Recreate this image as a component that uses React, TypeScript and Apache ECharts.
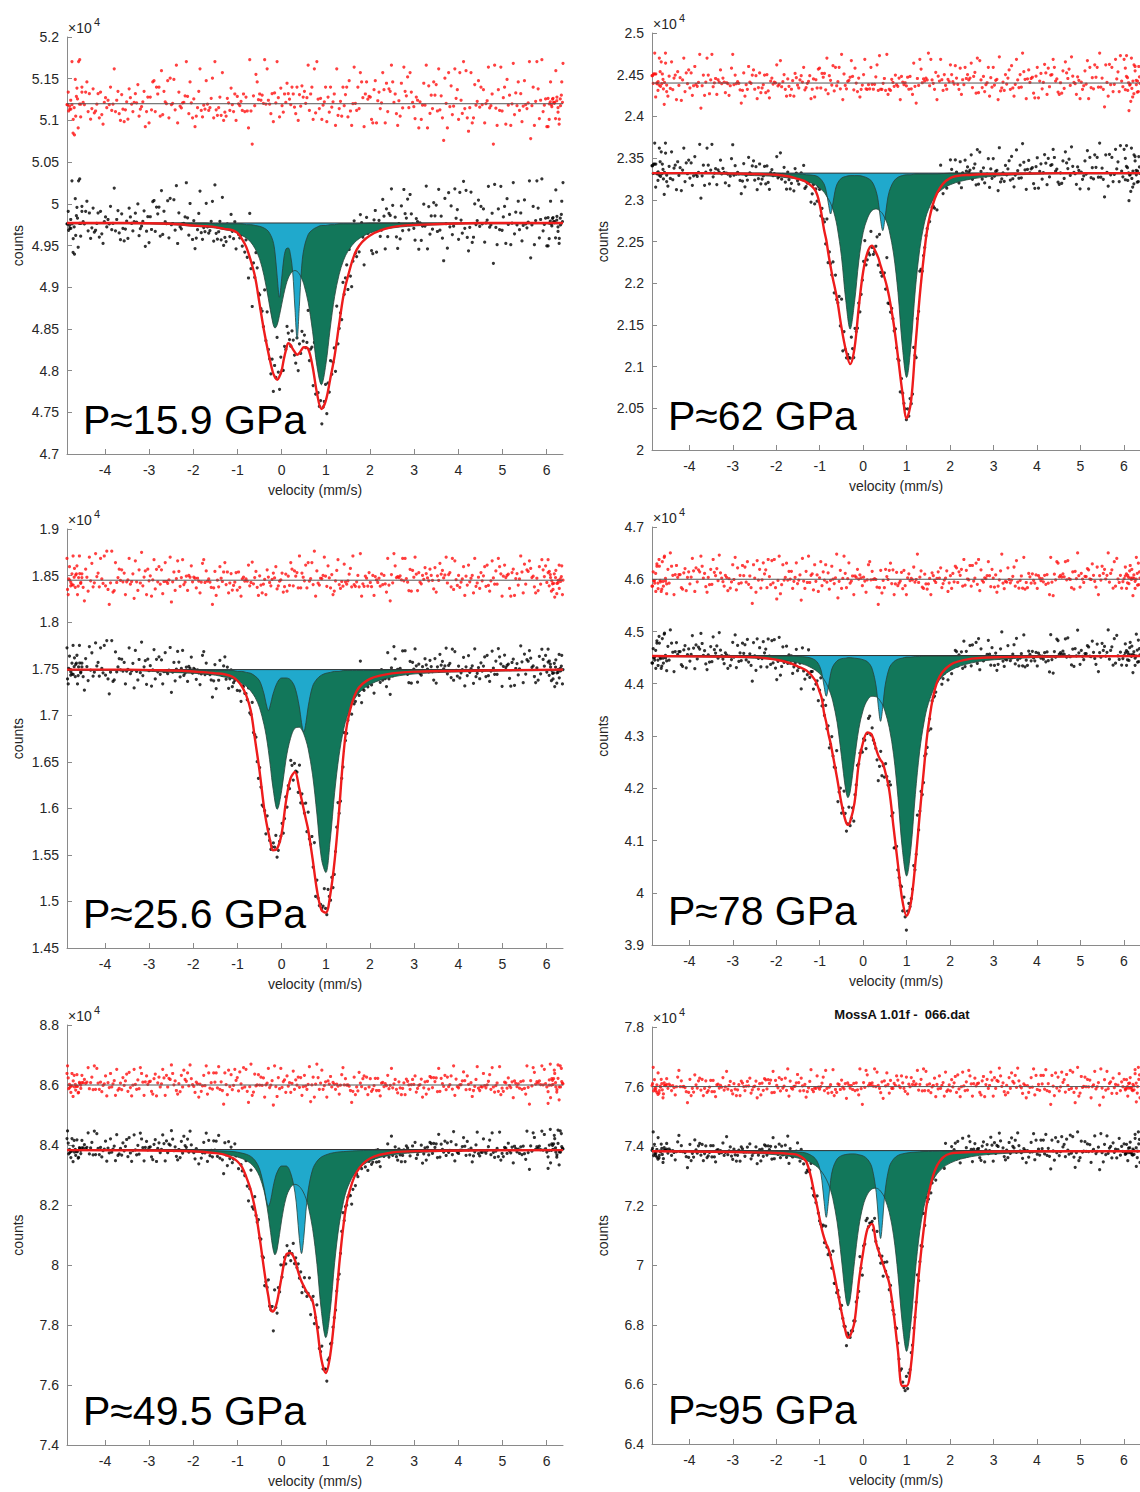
import React, { useEffect, useRef } from "react";
import * as echarts from "echarts";

// ---------- shared axis data ----------
const velocityTicks = [-4, -3, -2, -1, 0, 1, 2, 3, 4, 5, 6];
const velocityRange = [-4.86, 6.37];

// residual readings per channel (coarse level index + fine index, in units of the panel's noise sigma)
const residualDigits =
  "4537264815" + "3649527406" + "5283746193" + "4762538415" + "2946375081" +
  "6354729148" + "3857462953" + "1648573926" + "4739285164" + "5826374915" +
  "3746582930" + "6482957314" + "5937462851" + "2864739516" + "4378526194" +
  "7526384913" + "3659472850" + "6847295316" + "4295837461" + "5738264917" +
  "2649375813" + "8463527946" + "3574826190" + "6293748514" + "4758362918" +
  "3946257381" + "5382947164" + "7164583925" + "2857364198" + "4639275813" +
  "5472836491" + "3825649170" + "6948375216" + "4563928714" + "2735849163" +
  "5847263915" + "3692574816" + "4826395712" + "7359248615" + "5463827914";
const residualLevels = [-1.95, -1.15, -0.7, -0.38, -0.12, 0.12, 0.38, 0.7, 1.15, 1.95];
const residualSpread = [0.9, 0.62, 0.4, 0.3, 0.25, 0.25, 0.3, 0.4, 0.62, 0.9];
const channelCount = 400;
// extra channels crowded at both ends of the velocity sweep
const edgeChannelCount = 14;
const edgeChannelWidth = 0.35;

// ---------- Panel 1 : P≈15.9 GPa ----------
const p1Label = "P≈15.9 GPa";
const p1Baseline = 4.977;
const p1ResidualLine = 5.12;
const p1NoiseSigma = 0.022;
const p1YTicks = [4.7, 4.75, 4.8, 4.85, 4.9, 4.95, 5, 5.05, 5.1, 5.15, 5.2];
const p1Velocity = [-4.86, -3.5, -2.5, -2.0, -1.7, -1.5, -1.3, -1.1, -1.0, -0.9, -0.8, -0.7, -0.6, -0.5, -0.4, -0.3, -0.2, -0.15, -0.1, -0.05, 0, 0.05, 0.1, 0.15, 0.2, 0.25, 0.3, 0.35, 0.4, 0.45, 0.5, 0.6, 0.7, 0.8, 0.9, 1.0, 1.1, 1.2, 1.3, 1.4, 1.5, 1.7, 2.0, 2.5, 3.2, 4.5, 6.37];
const p1GreenDepth = [0.001, 0.001, 0.002, 0.004, 0.005, 0.006, 0.008, 0.010, 0.012, 0.015, 0.018, 0.023, 0.031, 0.043, 0.063, 0.091, 0.120, 0.126, 0.122, 0.111, 0.098, 0.085, 0.074, 0.066, 0.061, 0.058, 0.057, 0.058, 0.061, 0.066, 0.073, 0.095, 0.130, 0.172, 0.194, 0.170, 0.126, 0.088, 0.062, 0.045, 0.034, 0.021, 0.012, 0.006, 0.003, 0.001, 0.001];
const p1CyanDepth = [0, 0, 0, 0, 0, 0.001, 0.001, 0.001, 0.001, 0.001, 0.002, 0.002, 0.003, 0.004, 0.006, 0.010, 0.021, 0.036, 0.065, 0.089, 0.067, 0.042, 0.031, 0.030, 0.038, 0.059, 0.102, 0.139, 0.100, 0.055, 0.032, 0.014, 0.008, 0.005, 0.003, 0.003, 0.002, 0.002, 0.001, 0.001, 0.001, 0.001, 0, 0, 0, 0, 0];
const p1FitDepth = [0, 0, 0.001, 0.003, 0.004, 0.005, 0.007, 0.009, 0.012, 0.019, 0.029, 0.045, 0.065, 0.097, 0.129, 0.156, 0.179, 0.185, 0.188, 0.184, 0.177, 0.163, 0.152, 0.144, 0.146, 0.151, 0.155, 0.158, 0.156, 0.152, 0.149, 0.151, 0.172, 0.204, 0.223, 0.213, 0.187, 0.159, 0.122, 0.087, 0.064, 0.032, 0.015, 0.005, 0.002, 0, 0];

// ---------- Panel 2 : P≈25.6 GPa ----------
const p2Label = "P≈25.6 GPa";
const p2Baseline = 1.749;
const p2ResidualLine = 1.845;
const p2NoiseSigma = 0.013;
const p2YTicks = [1.45, 1.5, 1.55, 1.6, 1.65, 1.7, 1.75, 1.8, 1.85, 1.9];
const p2Velocity = [-4.86, -3.5, -2.5, -2.0, -1.7, -1.5, -1.3, -1.1, -1.0, -0.9, -0.8, -0.7, -0.6, -0.5, -0.4, -0.35, -0.3, -0.25, -0.2, -0.1, 0, 0.1, 0.2, 0.3, 0.4, 0.45, 0.5, 0.55, 0.6, 0.7, 0.8, 0.9, 1.0, 1.1, 1.2, 1.3, 1.4, 1.5, 1.7, 2.0, 2.5, 3.2, 4.5, 6.37];
const p2GreenDepth = [0.001, 0.001, 0.003, 0.004, 0.005, 0.006, 0.008, 0.010, 0.012, 0.015, 0.018, 0.023, 0.030, 0.041, 0.059, 0.071, 0.087, 0.106, 0.126, 0.150, 0.130, 0.096, 0.074, 0.063, 0.062, 0.064, 0.069, 0.076, 0.085, 0.113, 0.156, 0.203, 0.218, 0.183, 0.132, 0.092, 0.065, 0.048, 0.028, 0.016, 0.008, 0.004, 0.002, 0.001];
const p2CyanDepth = [0, 0, 0, 0, 0.001, 0.001, 0.001, 0.001, 0.002, 0.002, 0.003, 0.004, 0.007, 0.012, 0.026, 0.037, 0.044, 0.037, 0.027, 0.014, 0.009, 0.009, 0.011, 0.019, 0.040, 0.057, 0.067, 0.057, 0.040, 0.018, 0.010, 0.006, 0.004, 0.003, 0.002, 0.002, 0.001, 0.001, 0.001, 0.001, 0, 0, 0, 0];
const p2FitDepth = [0, 0, 0.001, 0.002, 0.003, 0.004, 0.005, 0.008, 0.012, 0.018, 0.028, 0.044, 0.076, 0.109, 0.148, 0.163, 0.175, 0.186, 0.194, 0.192, 0.176, 0.141, 0.117, 0.110, 0.128, 0.139, 0.150, 0.161, 0.172, 0.203, 0.237, 0.258, 0.261, 0.242, 0.205, 0.152, 0.091, 0.054, 0.023, 0.010, 0.004, 0.002, 0.001, 0];

// ---------- Panel 3 : P≈49.5 GPa ----------
const p3Label = "P≈49.5 GPa";
const p3Baseline = 8.385;
const p3ResidualLine = 8.6;
const p3NoiseSigma = 0.029;
const p3YTicks = [7.4, 7.6, 7.8, 8, 8.2, 8.4, 8.6, 8.8];
const p3Velocity = [-4.86, -3.5, -2.5, -2.0, -1.7, -1.5, -1.3, -1.1, -1.0, -0.9, -0.8, -0.7, -0.6, -0.5, -0.4, -0.35, -0.3, -0.25, -0.2, -0.15, -0.1, 0, 0.1, 0.2, 0.3, 0.35, 0.4, 0.45, 0.5, 0.55, 0.6, 0.7, 0.8, 0.9, 1.0, 1.1, 1.2, 1.3, 1.4, 1.5, 1.7, 2.0, 2.5, 3.2, 4.5, 6.37];
const p3GreenDepth = [0.002, 0.003, 0.005, 0.008, 0.010, 0.012, 0.016, 0.021, 0.025, 0.030, 0.037, 0.047, 0.063, 0.090, 0.137, 0.174, 0.221, 0.277, 0.328, 0.351, 0.332, 0.235, 0.161, 0.127, 0.116, 0.118, 0.123, 0.132, 0.145, 0.163, 0.188, 0.263, 0.383, 0.540, 0.627, 0.537, 0.377, 0.253, 0.174, 0.124, 0.071, 0.038, 0.018, 0.009, 0.004, 0.002];
const p3CyanDepth = [0, 0.001, 0.001, 0.002, 0.003, 0.004, 0.005, 0.007, 0.009, 0.012, 0.016, 0.023, 0.037, 0.065, 0.126, 0.167, 0.189, 0.170, 0.130, 0.097, 0.075, 0.055, 0.055, 0.077, 0.142, 0.209, 0.297, 0.347, 0.296, 0.206, 0.137, 0.067, 0.039, 0.025, 0.018, 0.013, 0.010, 0.008, 0.007, 0.006, 0.004, 0.003, 0.002, 0.001, 0, 0];
const p3FitDepth = [0.002, 0.003, 0.004, 0.006, 0.009, 0.012, 0.017, 0.029, 0.040, 0.058, 0.092, 0.135, 0.200, 0.292, 0.398, 0.448, 0.490, 0.533, 0.540, 0.530, 0.505, 0.424, 0.352, 0.345, 0.368, 0.395, 0.420, 0.440, 0.455, 0.470, 0.482, 0.505, 0.590, 0.700, 0.745, 0.685, 0.552, 0.390, 0.252, 0.160, 0.075, 0.030, 0.010, 0.005, 0.003, 0.002];

// ---------- Panel 4 : P≈62 GPa ----------
const p4Label = "P≈62 GPa";
const p4Baseline = 2.332;
const p4ResidualLine = 2.44;
const p4NoiseSigma = 0.015;
const p4YTicks = [2, 2.05, 2.1, 2.15, 2.2, 2.25, 2.3, 2.35, 2.4, 2.45, 2.5];
const p4Velocity = [-4.86, -3.5, -2.5, -2.0, -1.7, -1.5, -1.3, -1.1, -1.0, -0.9, -0.85, -0.8, -0.75, -0.7, -0.65, -0.6, -0.5, -0.4, -0.3, -0.2, -0.1, 0, 0.1, 0.2, 0.3, 0.35, 0.4, 0.45, 0.5, 0.55, 0.6, 0.7, 0.8, 0.9, 1.0, 1.1, 1.2, 1.3, 1.4, 1.5, 1.7, 2.0, 2.5, 3.2, 4.5, 6.37];
const p4GreenDepth = [0.001, 0.001, 0.003, 0.004, 0.006, 0.007, 0.010, 0.014, 0.018, 0.023, 0.027, 0.031, 0.036, 0.043, 0.052, 0.064, 0.100, 0.153, 0.187, 0.155, 0.105, 0.071, 0.054, 0.045, 0.043, 0.044, 0.046, 0.049, 0.054, 0.060, 0.069, 0.097, 0.143, 0.207, 0.245, 0.206, 0.140, 0.092, 0.062, 0.044, 0.025, 0.014, 0.007, 0.003, 0.001, 0.001];
const p4CyanDepth = [0, 0, 0, 0, 0.001, 0.001, 0.002, 0.003, 0.006, 0.013, 0.022, 0.037, 0.049, 0.037, 0.022, 0.013, 0.006, 0.004, 0.003, 0.003, 0.003, 0.004, 0.006, 0.010, 0.022, 0.035, 0.056, 0.069, 0.055, 0.035, 0.022, 0.010, 0.005, 0.003, 0.002, 0.002, 0.001, 0.001, 0.001, 0.001, 0.001, 0, 0, 0, 0, 0];
const p4FitDepth = [0, 0, 0.001, 0.002, 0.004, 0.007, 0.011, 0.021, 0.038, 0.068, 0.080, 0.097, 0.112, 0.126, 0.138, 0.151, 0.185, 0.212, 0.229, 0.210, 0.160, 0.118, 0.095, 0.087, 0.096, 0.102, 0.111, 0.119, 0.127, 0.137, 0.149, 0.180, 0.220, 0.262, 0.294, 0.274, 0.209, 0.148, 0.098, 0.060, 0.024, 0.006, 0.002, 0.001, 0, 0];

// ---------- Panel 5 : P≈78 GPa ----------
const p5Label = "P≈78 GPa";
const p5Baseline = 4.454;
const p5ResidualLine = 4.6;
const p5NoiseSigma = 0.021;
const p5YTicks = [3.9, 4, 4.1, 4.2, 4.3, 4.4, 4.5, 4.6, 4.7];
const p5Velocity = [-4.86, -3.5, -2.5, -2.0, -1.7, -1.5, -1.3, -1.1, -1.0, -0.95, -0.9, -0.85, -0.8, -0.75, -0.7, -0.6, -0.5, -0.4, -0.35, -0.3, -0.2, -0.1, 0, 0.1, 0.2, 0.3, 0.35, 0.4, 0.45, 0.5, 0.6, 0.7, 0.8, 0.9, 1.0, 1.1, 1.2, 1.3, 1.4, 1.5, 1.7, 2.0, 2.5, 3.2, 4.5, 6.37];
const p5GreenDepth = [0.002, 0.003, 0.005, 0.008, 0.011, 0.014, 0.019, 0.028, 0.035, 0.040, 0.046, 0.053, 0.062, 0.073, 0.087, 0.128, 0.193, 0.259, 0.272, 0.261, 0.199, 0.140, 0.104, 0.085, 0.078, 0.079, 0.082, 0.088, 0.095, 0.106, 0.138, 0.190, 0.271, 0.370, 0.422, 0.368, 0.266, 0.183, 0.128, 0.092, 0.053, 0.029, 0.014, 0.007, 0.003, 0.001];
const p5CyanDepth = [0, 0, 0, 0.001, 0.001, 0.002, 0.003, 0.009, 0.021, 0.035, 0.059, 0.078, 0.060, 0.035, 0.021, 0.010, 0.006, 0.005, 0.004, 0.004, 0.005, 0.006, 0.008, 0.012, 0.024, 0.060, 0.099, 0.126, 0.099, 0.060, 0.024, 0.012, 0.007, 0.005, 0.003, 0.003, 0.002, 0.002, 0.001, 0.001, 0.001, 0.001, 0, 0, 0, 0];
const p5FitDepth = [0.001, 0.002, 0.003, 0.008, 0.014, 0.021, 0.029, 0.048, 0.070, 0.083, 0.110, 0.128, 0.150, 0.168, 0.190, 0.235, 0.283, 0.318, 0.324, 0.318, 0.282, 0.205, 0.165, 0.147, 0.152, 0.180, 0.192, 0.200, 0.206, 0.220, 0.258, 0.330, 0.400, 0.468, 0.498, 0.472, 0.398, 0.305, 0.215, 0.135, 0.051, 0.018, 0.006, 0.003, 0.002, 0.001];

// ---------- Panel 6 : P≈95 GPa ----------
const p6Label = "P≈95 GPa";
const p6Baseline = 7.385;
const p6ResidualLine = 7.6;
const p6NoiseSigma = 0.027;
const p6YTicks = [6.4, 6.6, 6.8, 7, 7.2, 7.4, 7.6, 7.8];
const p6Velocity = [-4.86, -3.5, -2.5, -2.0, -1.7, -1.5, -1.3, -1.1, -1.0, -0.95, -0.9, -0.85, -0.8, -0.75, -0.7, -0.6, -0.5, -0.4, -0.35, -0.3, -0.2, -0.1, 0, 0.1, 0.2, 0.3, 0.35, 0.4, 0.45, 0.5, 0.6, 0.7, 0.8, 0.9, 1.0, 1.1, 1.2, 1.3, 1.4, 1.5, 1.7, 2.0, 2.5, 3.2, 4.5, 6.37];
const p6GreenDepth = [0.002, 0.005, 0.009, 0.014, 0.019, 0.025, 0.034, 0.050, 0.063, 0.072, 0.083, 0.096, 0.112, 0.133, 0.160, 0.240, 0.364, 0.497, 0.522, 0.500, 0.373, 0.256, 0.184, 0.146, 0.129, 0.126, 0.129, 0.136, 0.146, 0.161, 0.207, 0.286, 0.415, 0.581, 0.674, 0.577, 0.406, 0.273, 0.188, 0.135, 0.078, 0.042, 0.020, 0.010, 0.004, 0.002];
const p6CyanDepth = [0, 0.001, 0.001, 0.002, 0.003, 0.005, 0.009, 0.027, 0.060, 0.101, 0.171, 0.224, 0.171, 0.101, 0.061, 0.028, 0.017, 0.013, 0.012, 0.011, 0.011, 0.014, 0.018, 0.029, 0.056, 0.141, 0.231, 0.295, 0.231, 0.141, 0.055, 0.028, 0.016, 0.011, 0.008, 0.006, 0.005, 0.004, 0.003, 0.003, 0.002, 0.001, 0.001, 0, 0, 0];
const p6FitDepth = [0.002, 0.004, 0.006, 0.008, 0.011, 0.015, 0.040, 0.160, 0.230, 0.266, 0.292, 0.313, 0.330, 0.357, 0.390, 0.465, 0.540, 0.610, 0.628, 0.622, 0.575, 0.440, 0.340, 0.262, 0.246, 0.311, 0.335, 0.356, 0.378, 0.400, 0.445, 0.545, 0.672, 0.790, 0.790, 0.720, 0.550, 0.385, 0.255, 0.150, 0.050, 0.010, 0.005, 0.003, 0.002, 0.002];

const chartTitle = "MossA 1.01f -  066.dat";

// ---------- layout (pixels) ----------
const boxes = [
  { left: 67, top: 37, width: 496, height: 417 },
  { left: 67, top: 529, width: 496, height: 419 },
  { left: 67, top: 1025, width: 496, height: 420 },
  { left: 652, top: 33, width: 496, height: 417 },
  { left: 652, top: 527, width: 496, height: 418 },
  { left: 652, top: 1027, width: 496, height: 417 },
];
const residualShift = [0, 67, 131, 199, 263, 331];

const FONT = "'Liberation Sans', Arial, Helvetica, sans-serif";
const GREEN = "#12775a";
const CYAN = "#20a9cc";
const OUTLINE = "#27433a";
const TEXT = "#262626";
const AXIS = "#8a8a8a";

const panels = [
  { label: p1Label, baseline: p1Baseline, residual: p1ResidualLine, sigma: p1NoiseSigma, yTicks: p1YTicks, vel: p1Velocity, green: p1GreenDepth, cyan: p1CyanDepth, fit: p1FitDepth },
  { label: p2Label, baseline: p2Baseline, residual: p2ResidualLine, sigma: p2NoiseSigma, yTicks: p2YTicks, vel: p2Velocity, green: p2GreenDepth, cyan: p2CyanDepth, fit: p2FitDepth },
  { label: p3Label, baseline: p3Baseline, residual: p3ResidualLine, sigma: p3NoiseSigma, yTicks: p3YTicks, vel: p3Velocity, green: p3GreenDepth, cyan: p3CyanDepth, fit: p3FitDepth },
  { label: p4Label, baseline: p4Baseline, residual: p4ResidualLine, sigma: p4NoiseSigma, yTicks: p4YTicks, vel: p4Velocity, green: p4GreenDepth, cyan: p4CyanDepth, fit: p4FitDepth },
  { label: p5Label, baseline: p5Baseline, residual: p5ResidualLine, sigma: p5NoiseSigma, yTicks: p5YTicks, vel: p5Velocity, green: p5GreenDepth, cyan: p5CyanDepth, fit: p5FitDepth },
  { label: p6Label, baseline: p6Baseline, residual: p6ResidualLine, sigma: p6NoiseSigma, yTicks: p6YTicks, vel: p6Velocity, green: p6GreenDepth, cyan: p6CyanDepth, fit: p6FitDepth },
];

function depthAt(vel: number[], depth: number[], v: number): number {
  for (let k = 1; k < vel.length; k++) {
    if (v <= vel[k]) {
      const t = (v - vel[k - 1]) / (vel[k] - vel[k - 1]);
      return depth[k - 1] + t * (depth[k] - depth[k - 1]);
    }
  }
  return depth[depth.length - 1];
}

function digitAt(idx: number): number {
  return residualDigits.charCodeAt(idx % residualDigits.length) - 48;
}

function buildOption() {
  const series: any[] = [];
  const graphic: any[] = [];
  const [vMin, vMax] = velocityRange;
  const L = residualDigits.length;

  // channel velocities: evenly spread sweep plus extra channels at both turning points
  const channels: number[] = [];
  for (let c = 0; c < channelCount; c++) channels.push(vMin + (c * (vMax - vMin)) / (channelCount - 1));
  for (let e = 0; e < edgeChannelCount; e++) {
    channels.push(vMin + ((e + 0.5) * edgeChannelWidth) / edgeChannelCount);
    channels.push(vMax - ((e + 0.5) * edgeChannelWidth) / edgeChannelCount);
  }

  panels.forEach((p, i) => {
    const B = p.baseline;
    const black: number[][] = [];
    const red: number[][] = [];
    channels.forEach((v, c) => {
      const d1 = digitAt(c * 3 + residualShift[i] + (c >= channelCount ? 17 : 0));
      const d2 = digitAt((c * 7 + 3 + residualShift[i] * 3) % L);
      const z = residualLevels[d1] + (residualSpread[d1] * (d2 - 4.5)) / 9;
      const r = p.sigma * z;
      black.push([v, B - depthAt(p.vel, p.fit, v) + r]);
      red.push([v, p.residual + r]);
    });
    const common = { xAxisIndex: i, yAxisIndex: i, silent: true, animation: false };
    series.push({
      ...common, type: "line", symbol: "none", smooth: 0.35,
      data: p.vel.map((v, k) => [v, B - p.green[k]]),
      lineStyle: { color: OUTLINE, width: 0.8 },
      areaStyle: { color: GREEN, opacity: 1, origin: B },
    });
    series.push({
      ...common, type: "line", symbol: "none", smooth: 0.35,
      data: p.vel.map((v, k) => [v, B - p.cyan[k]]),
      lineStyle: { color: OUTLINE, width: 0.8 },
      areaStyle: { color: CYAN, opacity: 1, origin: B },
    });
    series.push({
      ...common, type: "line", symbol: "none",
      data: [[vMin, B], [vMax, B]],
      lineStyle: { color: "#333", width: 1 },
    });
    series.push({
      ...common, type: "scatter", symbol: "circle", symbolSize: 3.2,
      data: black, itemStyle: { color: "#000" },
    });
    series.push({
      ...common, type: "line", symbol: "none", smooth: 0.35,
      data: p.vel.map((v, k) => [v, B - p.fit[k]]),
      lineStyle: { color: "#ee1c1c", width: 2.4 },
    });
    series.push({
      ...common, type: "scatter", symbol: "circle", symbolSize: 3.2,
      data: red, itemStyle: { color: "#ff1010" },
    });
    series.push({
      ...common, type: "line", symbol: "none",
      data: [[vMin, p.residual], [vMax, p.residual]],
      lineStyle: { color: "#555", width: 1 },
    });

    const b = boxes[i];
    graphic.push({
      type: "text", x: b.left + 16, y: b.top + b.height - 34, silent: true,
      style: { text: p.label, fontSize: 41, fontFamily: FONT, fill: "#000", verticalAlign: "middle", align: "left" },
    });
    graphic.push({
      type: "text", x: b.left + 1, y: b.top - 9, silent: true,
      style: { text: "×10", fontSize: 14, fontFamily: FONT, fill: TEXT, verticalAlign: "middle", align: "left" },
    });
    graphic.push({
      type: "text", x: b.left + 27, y: b.top - 15, silent: true,
      style: { text: "4", fontSize: 11, fontFamily: FONT, fill: TEXT, verticalAlign: "middle", align: "left" },
    });
  });

  graphic.push({
    type: "text", x: 902, y: 1014, silent: true,
    style: { text: chartTitle, fontSize: 13, fontWeight: "bold", fontFamily: FONT, fill: "#111", verticalAlign: "middle", align: "center" },
  });

  return {
    animation: false,
    backgroundColor: "#fff",
    grid: boxes.map((b) => ({ ...b, containLabel: false })),
    xAxis: boxes.map((_, i) => ({
      type: "value", gridIndex: i, min: velocityRange[0], max: velocityRange[1],
      name: "velocity (mm/s)", nameLocation: "middle", nameGap: 29,
      nameTextStyle: { color: TEXT, fontSize: 14, fontFamily: FONT },
      axisLine: { show: true, onZero: false, lineStyle: { color: AXIS, width: 1 } },
      axisTick: { show: true, inside: true, length: 5, customValues: velocityTicks, lineStyle: { color: AXIS } },
      axisLabel: { customValues: velocityTicks, color: TEXT, fontSize: 14, fontFamily: FONT, margin: 9 },
      splitLine: { show: false },
    })),
    yAxis: panels.map((p, i) => ({
      type: "value", gridIndex: i, min: p.yTicks[0], max: p.yTicks[p.yTicks.length - 1],
      name: "counts", nameLocation: "middle", nameGap: 42, nameRotate: 90,
      nameTextStyle: { color: TEXT, fontSize: 14, fontFamily: FONT },
      axisLine: { show: true, onZero: false, lineStyle: { color: AXIS, width: 1 } },
      axisTick: { show: true, inside: true, length: 5, customValues: p.yTicks, lineStyle: { color: AXIS } },
      axisLabel: { customValues: p.yTicks, color: TEXT, fontSize: 14, fontFamily: FONT, margin: 8 },
      splitLine: { show: false },
    })),
    series,
    graphic,
  };
}

export default function App() {
  const ref = useRef<HTMLDivElement>(null);
  useEffect(() => {
    if (!ref.current) return;
    const chart = echarts.init(ref.current, null, { renderer: "svg" });
    chart.setOption(buildOption() as any);
    return () => chart.dispose();
  }, []);
  return (
    <div
      ref={ref}
      style={{ position: "absolute", left: 0, top: 0, width: 1140, height: 1492, background: "#fff" }}
    />
  );
}
